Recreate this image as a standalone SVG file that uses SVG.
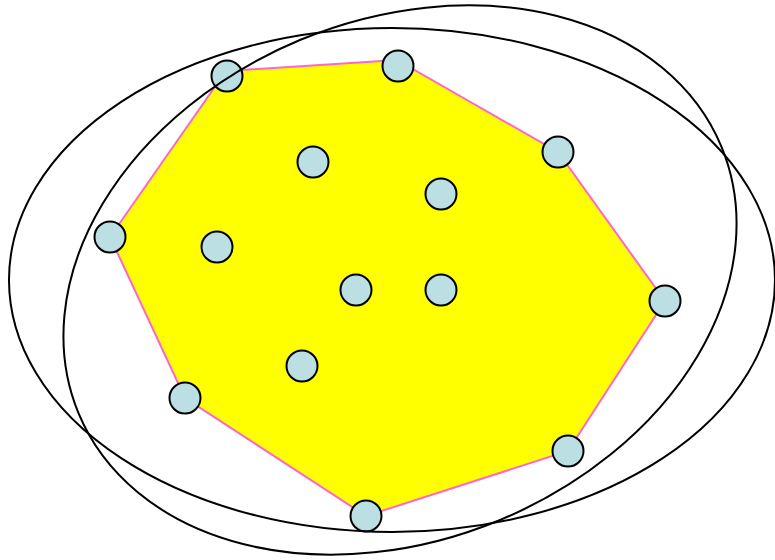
<svg xmlns="http://www.w3.org/2000/svg" width="775" height="560" viewBox="0 0 775 560">
<style>
.pt{fill:#bbdfe2;stroke:#000;stroke-width:2}
.el{fill:none;stroke:#000;stroke-width:2}
</style>
<rect width="775" height="560" fill="#fff"/>
<polygon id="hull" points="226,71 397,60 558,152 665,301 568,451 366,516 185,398 110,237" fill="#ffff00" stroke="#ff66cc" stroke-width="2"/>
<g id="points">
<circle class="pt" cx="227" cy="76" r="15.5"/>
<circle class="pt" cx="398" cy="66" r="15.5"/>
<circle class="pt" cx="558" cy="152" r="15.5"/>
<circle class="pt" cx="665" cy="301" r="15.5"/>
<circle class="pt" cx="568" cy="451" r="15.5"/>
<circle class="pt" cx="366" cy="516" r="15.5"/>
<circle class="pt" cx="185" cy="398" r="15.5"/>
<circle class="pt" cx="110" cy="237" r="15.5"/>
<circle class="pt" cx="313" cy="162" r="15.5"/>
<circle class="pt" cx="441" cy="194" r="15.5"/>
<circle class="pt" cx="217" cy="247" r="15.5"/>
<circle class="pt" cx="356" cy="290" r="15.5"/>
<circle class="pt" cx="441" cy="290" r="15.5"/>
<circle class="pt" cx="302" cy="366" r="15.5"/>
</g>
<g id="ellipses">
<ellipse class="el" cx="392" cy="280" rx="383" ry="252"/>
<ellipse class="el" cx="400" cy="280" rx="348" ry="260" transform="rotate(-22.5 400 280)"/>
</g>
</svg>
